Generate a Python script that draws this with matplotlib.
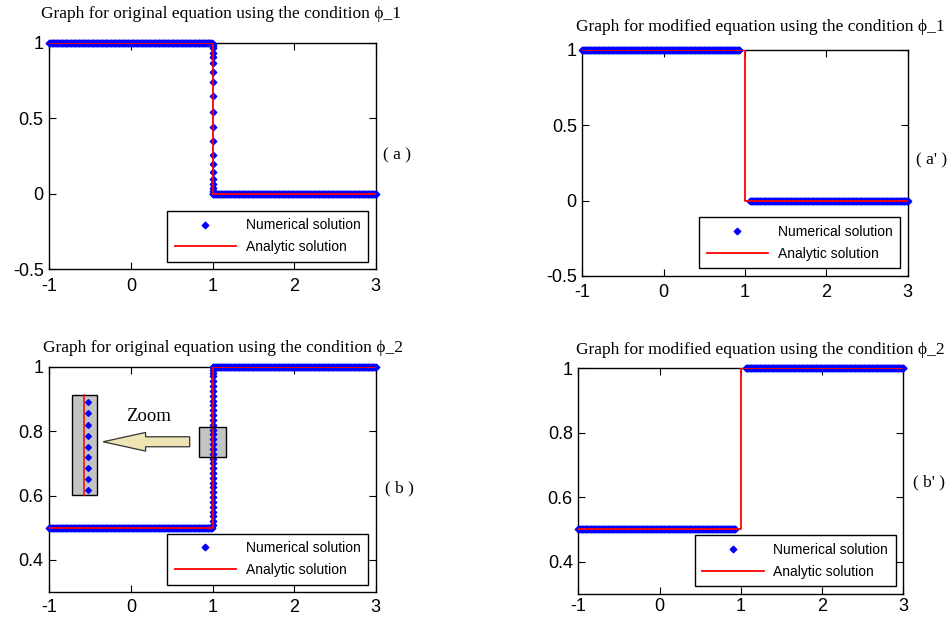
import numpy as np
import matplotlib.pyplot as plt
from matplotlib.patches import Rectangle, FancyArrow

#---------------------------------------------------------------------------------
# DATA

# sampling grid of the numerical scheme
x_grid = np.linspace(-1, 3, 401)

# (a) original equation, condition phi_1
a_levels = (1.0, 0.0)
a_jump_x = 1.0
a_column_y = [0.99, 0.98, 0.962, 0.929, 0.903, 0.867, 0.808, 0.737, 0.646, 0.544,
              0.445, 0.347, 0.257, 0.199, 0.142, 0.097, 0.064, 0.040, 0.018, 0.008]
a_exact_x = [-1, 1, 1, 3]
a_exact_y = [1, 1, 0, 0]

# (a') modified equation, condition phi_1
a2_levels = (1.0, 0.0)
a2_gap = (0.93, 1.05)
a2_exact_x = [-1, 1, 1, 3]
a2_exact_y = [1, 1, 0, 0]

# (b) original equation, condition phi_2
b_levels = (0.5, 1.0)
b_jump_x = 1.0
b_column_y = [0.51, 0.52, 0.535, 0.55, 0.565, 0.58, 0.595, 0.61, 0.625, 0.64,
              0.655, 0.67, 0.685, 0.70, 0.715, 0.73, 0.745, 0.76, 0.775, 0.79,
              0.805, 0.82, 0.835, 0.85, 0.865, 0.88, 0.895, 0.91, 0.925, 0.94,
              0.955, 0.97, 0.98, 0.99]
b_exact_x = [-1, 1, 1, 3]
b_exact_y = [0.5, 0.5, 1, 1]
# points shown in the zoom inset
b_inset_y = [0.89, 0.855, 0.82, 0.785, 0.75, 0.72, 0.685, 0.65, 0.616]

# (b') modified equation, condition phi_2
b2_levels = (0.5, 1.0)
b2_gap = (0.93, 1.05)
b2_exact_x = [-1, 1, 1, 3]
b2_exact_y = [0.5, 0.5, 1, 1]

x_ticks = [-1, 0, 1, 2, 3]
a_yticks = [-0.5, 0, 0.5, 1]
b_yticks = [0.4, 0.6, 0.8, 1]

titles = ['Graph for original equation using the condition \u03d5_1',
          'Graph for modified equation using the condition \u03d5_1',
          'Graph for original equation using the condition \u03d5_2',
          'Graph for modified equation using the condition \u03d5_2']
tags = ['( a )', "( a' )", '( b )', "( b' )"]

#---------------------------------------------------------------------------------

SERIF = ['Liberation Serif', 'DejaVu Serif']
plt.rcParams['font.family'] = ['Liberation Sans', 'DejaVu Sans']
plt.rcParams['xtick.direction'] = 'in'
plt.rcParams['ytick.direction'] = 'in'

MARK = dict(linestyle='none', marker='D', markersize=3.4, color='blue',
            markeredgewidth=0.9)


def step_with_column(levels, jump_x, column_y):
    left, right = levels
    y = np.where(x_grid < jump_x, left, right)
    xs = np.concatenate([x_grid, np.full(len(column_y), jump_x)])
    ys = np.concatenate([y, column_y])
    return xs, ys


def step_with_gap(levels, gap):
    left, right = levels
    keep = (x_grid <= gap[0]) | (x_grid >= gap[1])
    y = np.where(x_grid < gap[0] + 0.01, left, right)
    return x_grid[keep], y[keep]


def style_axes(ax, yticks, ylim, xpad=6):
    ax.set_xlim(-1, 3)
    ax.set_ylim(*ylim)
    ax.set_xticks(x_ticks)
    ax.set_yticks(yticks)
    ax.set_xticklabels([f'{t:g}' for t in x_ticks])
    ax.set_yticklabels([f'{t:g}' for t in yticks])
    ax.tick_params(top=True, right=True, length=5, width=0.8, labelsize=13, pad=4)
    ax.tick_params(axis='x', pad=xpad)
    for s in ax.spines.values():
        s.set_linewidth(1.0)
        s.set_color('black')


def draw(ax, xs, ys, ex, ey):
    ax.plot(xs, ys, label='Numerical solution', clip_on=False, zorder=3, **MARK)
    ax.plot(ex, ey, color='red', lw=1.3, label='Analytic solution', zorder=4)
    leg = ax.legend(loc='lower right', numpoints=1, fontsize=10, fancybox=False,
                    edgecolor='black', framealpha=1, handlelength=4.4,
                    handletextpad=0.7, borderaxespad=0.55, borderpad=0.55,
                    labelspacing=0.55)
    leg.get_frame().set_linewidth(1.0)


fig = plt.figure(figsize=(9.5, 6.18), dpi=100)
ax_a = fig.add_axes([0.0519, 0.5642, 0.3436, 0.3667])
ax_a2 = fig.add_axes([0.6130, 0.5534, 0.3425, 0.3657])
ax_b = fig.add_axes([0.0519, 0.0418, 0.3436, 0.3648])
ax_b2 = fig.add_axes([0.6088, 0.0390, 0.3421, 0.3651])

xs, ys = step_with_column(a_levels, a_jump_x, a_column_y)
draw(ax_a, xs, ys, a_exact_x, a_exact_y)
style_axes(ax_a, a_yticks, (-0.5, 1))

xs, ys = step_with_gap(a2_levels, a2_gap)
draw(ax_a2, xs, ys, a2_exact_x, a2_exact_y)
style_axes(ax_a2, a_yticks, (-0.5, 1))

xs, ys = step_with_column(b_levels, b_jump_x, b_column_y)
draw(ax_b, xs, ys, b_exact_x, b_exact_y)
style_axes(ax_b, b_yticks, (0.3, 1), xpad=5)

xs, ys = step_with_gap(b2_levels, b2_gap)
draw(ax_b2, xs, ys, b2_exact_x, b2_exact_y)
style_axes(ax_b2, b_yticks, (0.3, 1), xpad=3)

# zoom illustration on panel (b)
ax_b.add_patch(Rectangle((0.84, 0.721), 0.32, 0.092, facecolor='#c3c3c3',
                         edgecolor='none', zorder=1))
ax_b.add_patch(Rectangle((0.84, 0.721), 0.32, 0.092, facecolor='none',
                         edgecolor='black', lw=1.0, zorder=5))
ax_b.add_patch(Rectangle((-0.72, 0.601), 0.305, 0.31, facecolor='#c3c3c3',
                         edgecolor='black', lw=1.0, zorder=2))
ax_b.plot([-0.57, -0.57], [0.601, 0.911], color='red', lw=1.1, zorder=3)
ax_b.plot(np.full(len(b_inset_y), -0.53), b_inset_y, zorder=4,
          **{**MARK, 'markersize': 3.0})
ax_b.add_patch(FancyArrow(0.72, 0.767, -1.06, 0, width=0.031, head_width=0.058,
                          head_length=0.52, length_includes_head=True,
                          facecolor='#efe4b4', edgecolor='#333333', lw=0.9, zorder=4))
ax_b.text(0.22, 0.846, 'Zoom', family=SERIF, fontsize=13.5, ha='center', va='center')

# titles and panel tags
title_pos = [(221, 14), (760, 27), (223, 348), (760, 350)]
for (px, py), t in zip(title_pos, titles):
    fig.text(px / 950, 1 - py / 618, t, family=SERIF, fontsize=12.5,
             ha='center', va='center')
tag_pos = [(397, 155), (932, 160), (399, 488), (929, 482)]
for (px, py), t in zip(tag_pos, tags):
    fig.text(px / 950, 1 - py / 618, t, family=SERIF, fontsize=12.5,
             ha='center', va='center')

fig.savefig('out.png', dpi=100)
